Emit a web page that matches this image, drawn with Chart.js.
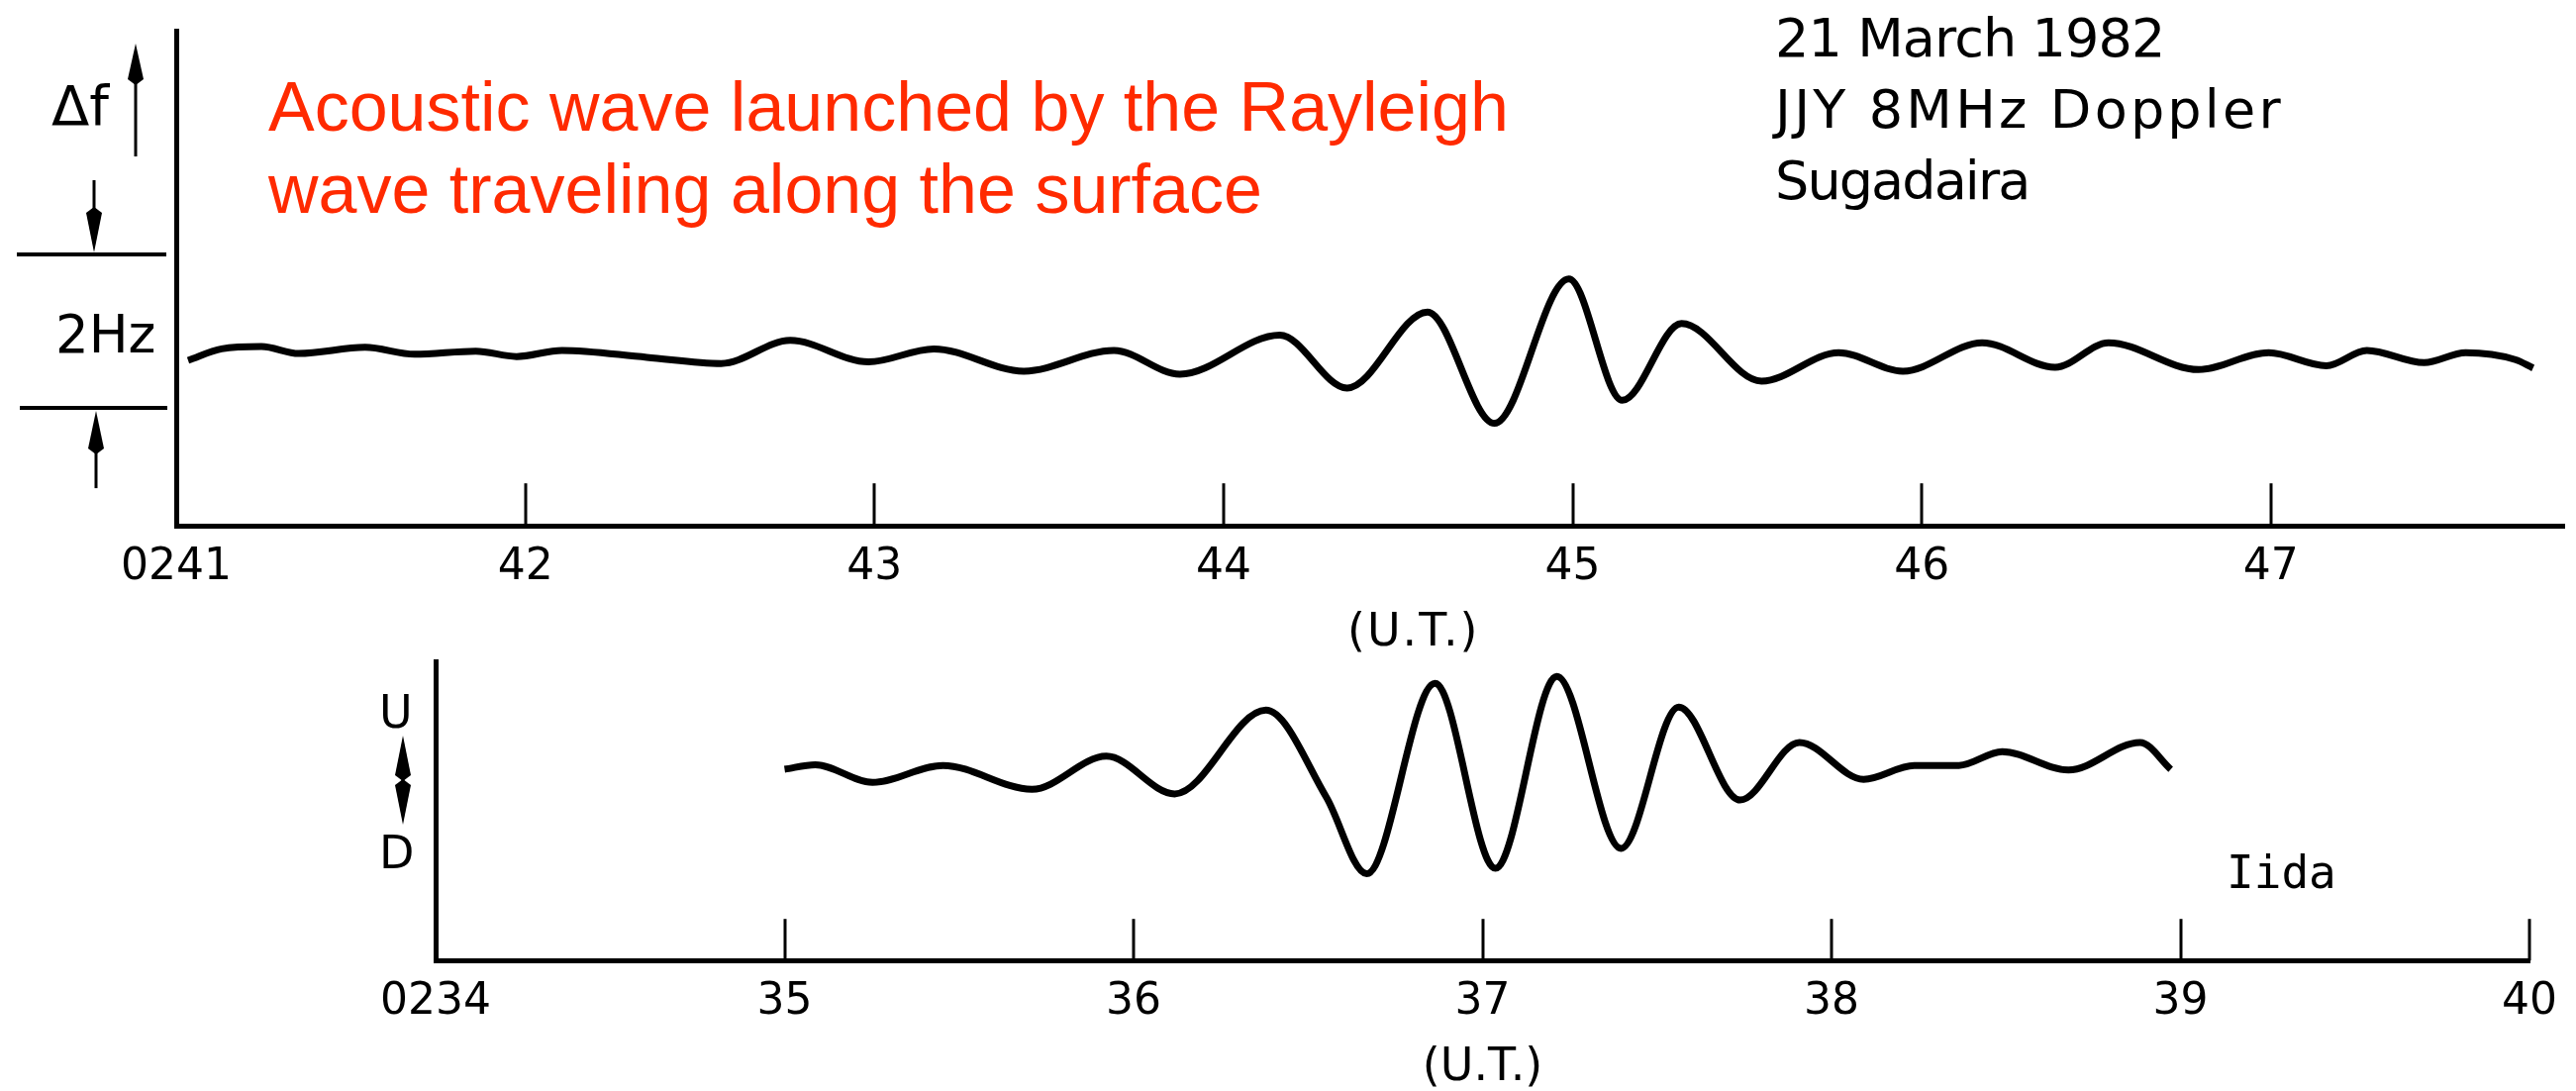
<!DOCTYPE html>
<html>
<head>
<meta charset="utf-8">
<script src="https://cdn.jsdelivr.net/npm/chart.js@4.4.1/dist/chart.umd.min.js"></script>
<style>
  html, body { margin: 0; padding: 0; background: #fff; }
  #wrap { position: relative; width: 2602px; height: 1102px; overflow: hidden; background: #fff; }
  canvas { position: absolute; left: 0; }
  .t { position: absolute; white-space: nowrap; line-height: 1; color: #000;
       font-family: "DejaVu Sans", sans-serif; }
  .red { color: #ff2a00; font-family: "Liberation Sans", Arial, sans-serif; font-size: 70px; }
  .info { font-size: 54px; }
</style>
</head>
<body>
<div id="wrap">
  <canvas id="topChart" width="2602" height="640" style="top:0"></canvas>
  <canvas id="bottomChart" width="2602" height="462" style="top:640px"></canvas>

  <div class="t red" style="left:271px; top:73px;">Acoustic wave launched by the Rayleigh</div>
  <div class="t red" style="left:271px; top:156px;">wave traveling along the surface</div>

  <div class="t info" style="left:1793px; top:12px; letter-spacing:-0.9px;">21 March 1982</div>
  <div class="t info" style="left:1793px; top:84px; letter-spacing:3.2px;">JJY 8MHz Doppler</div>
  <div class="t info" style="left:1793px; top:156px; letter-spacing:-1.9px;">Sugadaira</div>

  <div class="t" style="left:52px; top:79px; font-size:56px;">Δf</div>
  <div class="t" style="left:56px; top:311px; font-size:53px;">2Hz</div>
  <div class="t" style="left:1361px; top:613px; font-size:46px; letter-spacing:2px;">(U.T.)</div>

  <div class="t" style="left:383px; top:696px; font-size:46px;">U</div>
  <div class="t" style="left:383px; top:838px; font-size:46px;">D</div>
  <div class="t" style="left:2249px; top:858px; font-size:46px; font-family:'DejaVu Sans Mono', monospace;">Iida</div>
</div>

<script>
// ---------------- data ----------------
// Upper panel: JJY 8 MHz HF Doppler at Sugadaira, 21 March 1982 (minutes after 02:00 UT)
const topMinutes = [41.034, 41.130, 41.244, 41.351, 41.541, 41.683, 41.858, 41.975, 42.105, 42.348,
                    42.561, 42.759, 42.983, 43.170, 43.428, 43.686, 43.875, 44.161, 44.354, 44.584,
                    44.776, 44.989, 45.142, 45.312, 45.541, 45.762, 45.946, 46.173, 46.382, 46.535,
                    46.793, 46.994, 47.159, 47.275, 47.439, 47.558, 47.700, 47.751];
const topDopplerHz = [-0.05, 0.10, 0.13, 0.04, 0.12, 0.03, 0.07, 0.00, 0.08, -0.01,
                      -0.09, 0.21, -0.07, 0.10, -0.19, 0.08, -0.23, 0.28, -0.41, 0.58,
                      -0.87, 1.01, -0.57, 0.43, -0.32, 0.05, -0.19, 0.18, -0.14, 0.18,
                      -0.17, 0.05, -0.12, 0.08, -0.08, 0.05, -0.04, -0.15];
const topTickValues = [41, 42, 43, 44, 45, 46, 47];
const topTickLabels = ['0241', '42', '43', '44', '45', '46', '47'];
const dopplerScaleBarHz = [-0.67, 1.33];   // 2 Hz bar

// Lower panel: vertical ground motion (U/D) at Iida (minutes after 02:00 UT)
const lowerMinutes = [35.000, 35.088, 35.252, 35.454, 35.709, 35.922, 36.118, 36.379, 36.552, 36.668,
                      36.864, 37.037, 37.213, 37.397, 37.562, 37.738, 37.908, 38.092, 38.237, 38.365,
                      38.489, 38.679, 38.884, 38.972];
const lowerVertical = [-0.09, -0.03, -0.26, -0.04, -0.35, 0.08, -0.41, 0.68, -0.45, -1.45,
                       1.03, -1.38, 1.12, -1.12, 0.72, -0.49, 0.26, -0.22, -0.04, -0.04,
                       0.14, -0.10, 0.26, -0.09];
const lowerTickValues = [34, 35, 36, 37, 38, 39, 40];
const lowerTickLabels = ['0234', '35', '36', '37', '38', '39', '40'];

// ---------------- helpers ----------------
function arrow(ctx, x, yTail, yTip, headLen, halfW) {
  const dir = yTip < yTail ? -1 : 1;
  const base = yTip - dir * headLen;
  ctx.beginPath();
  ctx.moveTo(x, yTail);
  ctx.lineTo(x, base);
  ctx.stroke();
  ctx.beginPath();
  ctx.moveTo(x, yTip);
  ctx.lineTo(x - halfW, base);
  ctx.lineTo(x, base - dir * 6);
  ctx.lineTo(x + halfW, base);
  ctx.closePath();
  ctx.fill();
}

function innerTicks(chart, values, len) {
  const ctx = chart.ctx, xs = chart.scales.x, area = chart.chartArea;
  ctx.lineWidth = 3;
  values.forEach(v => {
    if (v <= xs.min) return;
    const px = Math.round(xs.getPixelForValue(v));
    ctx.beginPath();
    ctx.moveTo(px, area.bottom);
    ctx.lineTo(px, area.bottom - len);
    ctx.stroke();
  });
}

const tickFont = { family: 'DejaVu Sans', size: 44, lineHeight: 1.2 };

function xScale(min, max, labels, firstVal, title) {
  return {
    type: 'linear', min: min, max: max,
    grid: { display: false, drawTicks: false },
    border: { display: true, color: '#000', width: 5 },
    ticks: {
      stepSize: 1, includeBounds: false, autoSkip: false, maxRotation: 0,
      padding: 16, color: '#000', font: tickFont,
      callback: (v) => labels[Math.round(v) - firstVal]
    },
    title: title
  };
}

function yScale(min, max) {
  return {
    min: min, max: max,
    grid: { display: false, drawTicks: false },
    border: { display: true, color: '#000', width: 5 },
    ticks: { display: false }
  };
}

// ---------------- upper chart ----------------
new Chart(document.getElementById('topChart'), {
  type: 'line',
  data: {
    datasets: [{
      data: topMinutes.map((m, i) => ({ x: m, y: topDopplerHz[i] })),
      borderColor: '#000', borderWidth: 7, pointRadius: 0,
      cubicInterpolationMode: 'monotone', fill: false
    }]
  },
  options: {
    responsive: false, animation: false, devicePixelRatio: 1,
    layout: { padding: { left: 178, right: 12, top: 31, bottom: 24 } },
    plugins: { legend: { display: false }, tooltip: { enabled: false } },
    scales: {
      x: xScale(41, 47.84, topTickLabels, 41, { display: false }),
      y: yScale(-2.206, 4.245)
    }
  },
  plugins: [{
    id: 'topInk',
    afterDraw(chart) {
      const ctx = chart.ctx, ys = chart.scales.y;
      ctx.save();
      ctx.strokeStyle = '#000'; ctx.fillStyle = '#000';
      innerTicks(chart, topTickValues, 43);
      // 2 Hz scale bar
      const L1 = ys.getPixelForValue(dopplerScaleBarHz[1]);
      const L2 = ys.getPixelForValue(dopplerScaleBarHz[0]);
      ctx.lineWidth = 4;
      ctx.beginPath(); ctx.moveTo(17, L1); ctx.lineTo(168, L1); ctx.stroke();
      ctx.beginPath(); ctx.moveTo(20, L2); ctx.lineTo(169, L2); ctx.stroke();
      ctx.lineWidth = 3;
      arrow(ctx, 137, L1 - 99, L1 - 213, 36, 8);   // Δf up
      arrow(ctx, 95, L1 - 75, L1 - 2, 40, 8);      // down onto bar
      arrow(ctx, 97, L2 + 81, L2 + 3, 38, 8);      // up onto bar
      ctx.restore();
    }
  }]
});

// ---------------- lower chart ----------------
new Chart(document.getElementById('bottomChart'), {
  type: 'line',
  data: {
    datasets: [{
      data: lowerMinutes.map((m, i) => ({ x: m, y: lowerVertical[i] })),
      borderColor: '#000', borderWidth: 7, pointRadius: 0,
      cubicInterpolationMode: 'monotone', fill: false
    }]
  },
  options: {
    responsive: false, animation: false, devicePixelRatio: 1,
    layout: { padding: { left: 440, right: 47, top: 28, bottom: 0 } },
    plugins: { legend: { display: false }, tooltip: { enabled: false } },
    scales: {
      x: xScale(34, 40, lowerTickLabels, 34, {
        display: true, text: '(U.T.)', color: '#000',
        font: { family: 'DejaVu Sans', size: 46, lineHeight: 1.0 },
        padding: { top: 1, bottom: 0 }
      }),
      y: yScale(-2.58, 1.316)
    }
  },
  plugins: [{
    id: 'lowerInk',
    afterDraw(chart) {
      const ctx = chart.ctx, area = chart.chartArea;
      ctx.save();
      ctx.strokeStyle = '#000'; ctx.fillStyle = '#000';
      innerTicks(chart, lowerTickValues, 42);
      // U / D double arrow
      ctx.lineWidth = 3;
      const top = area.top + 75, bot = area.top + 165;
      const mid = (top + bot) / 2;
      arrow(ctx, 407, mid, top, 40, 8);
      arrow(ctx, 407, mid, bot, 40, 8);
      ctx.restore();
    }
  }]
});
</script>
</body>
</html>
